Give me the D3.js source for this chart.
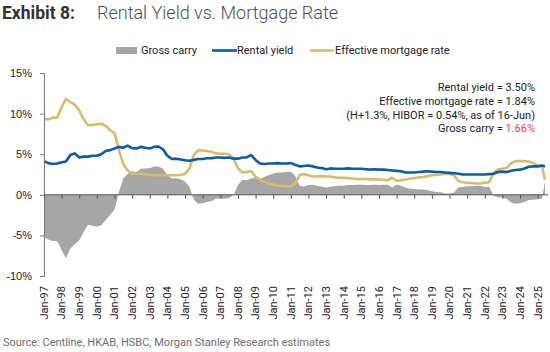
<!DOCTYPE html>
<html>
<head>
<meta charset="utf-8">
<script src="https://cdn.jsdelivr.net/npm/d3@7"></script>
<style>
body{margin:0;background:#fff}
svg{display:block;font-family:Roboto,"Liberation Sans",sans-serif}
</style>
</head>
<body>
<svg></svg>
<script>
// quarterly observations, last one is mid-June 2025
let dates=[
"1997-01","1997-04","1997-07","1997-10","1998-01","1998-04","1998-07","1998-10",
"1999-01","1999-04","1999-07","1999-10","2000-01","2000-04","2000-07","2000-10",
"2001-01","2001-04","2001-07","2001-10","2002-01","2002-04","2002-07","2002-10",
"2003-01","2003-04","2003-07","2003-10","2004-01","2004-04","2004-07","2004-10",
"2005-01","2005-04","2005-07","2005-10","2006-01","2006-04","2006-07","2006-10",
"2007-01","2007-04","2007-07","2007-10","2008-01","2008-04","2008-07","2008-10",
"2009-01","2009-04","2009-07","2009-10","2010-01","2010-04","2010-07","2010-10",
"2011-01","2011-04","2011-07","2011-10","2012-01","2012-04","2012-07","2012-10",
"2013-01","2013-04","2013-07","2013-10","2014-01","2014-04","2014-07","2014-10",
"2015-01","2015-04","2015-07","2015-10","2016-01","2016-04","2016-07","2016-10",
"2017-01","2017-04","2017-07","2017-10","2018-01","2018-04","2018-07","2018-10",
"2019-01","2019-04","2019-07","2019-10","2020-01","2020-04","2020-07","2020-10",
"2021-01","2021-04","2021-07","2021-10","2022-01","2022-04","2022-07","2022-10",
"2023-01","2023-04","2023-07","2023-10","2024-01","2024-04","2024-07","2024-10",
"2025-01","2025-04","2025-06"
]

let rentalYield=[
4.15,3.9,3.8,3.85, 4.0,4.1,4.9,5.1, 4.6,4.7,4.7,4.8, 4.8,5.0,5.4,5.5,
5.7,5.9,5.8,6.05, 5.75,5.7,5.9,5.8, 5.7,5.9,5.95,5.6, 4.8,4.4,4.45,4.35,
4.25,4.2,4.3,4.4, 4.4,4.5,4.5,4.6, 4.6,4.55,4.6,4.45, 4.45,4.6,4.6,4.9,
4.3,3.85,3.8,3.85, 3.85,3.9,3.85,3.85, 3.9,3.7,3.5,3.55, 3.6,3.5,3.35,3.3,
3.15,3.25,3.2,3.2, 3.2,3.25,3.2,3.2, 3.2,3.15,3.1,3.15, 3.1,3.1,3.05,3.0,
2.95,2.9,2.75,2.75, 2.75,2.8,2.85,2.9, 2.85,2.8,2.8,2.75, 2.7,2.65,2.6,2.5,
2.5,2.5,2.5,2.5, 2.5,2.55,2.6,2.8, 2.85,2.8,2.95,3.05, 3.1,3.25,3.45,3.5,
3.5,3.6,3.5
]

let mortgageRate=[
9.3,9.3,9.5,9.5, 10.8,11.8,11.4,11.1, 10.4,9.3,8.6,8.6, 8.7,8.75,8.5,7.95,
7.6,5.5,3.8,3.0, 2.6,2.6,2.6,2.55, 2.45,2.4,2.4,2.4, 2.4,2.4,2.4,2.45,
2.6,3.2,4.9,5.5, 5.45,5.4,5.3,5.1, 5.05,5.05,5.0,4.5, 3.3,2.75,2.8,2.9,
2.2,1.9,1.6,1.4, 1.25,1.15,1.1,1.05, 1.05,1.4,2.4,2.55, 2.4,2.25,2.25,2.3,
2.25,2.25,2.15,2.1, 2.1,2.05,2.0,1.95, 1.95,1.95,1.9,1.9, 1.9,1.85,1.8,2.1,
1.7,1.8,1.85,2.0, 2.05,2.15,2.2,2.3, 2.4,2.45,2.5,2.6, 2.55,2.4,1.7,1.55,
1.45,1.45,1.4,1.4, 1.5,1.55,2.7,3.1, 3.2,3.3,3.9,4.15, 4.15,4.15,4.1,3.9,
3.6,3.45,1.84
]

let grossCarry=[
-5.2,-5.5,-5.7,-5.7, -6.8,-7.8,-6.6,-6.1, -5.6,-4.6,-3.7,-3.8, -3.9,-3.75,-3.1,-2.5,
-1.8,0.3,2.0,2.6, 2.9,2.8,3.2,3.25, 3.3,3.5,3.5,3.2, 2.4,2.0,2.05,1.9,
1.65,1.0,-0.6,-1.1, -1.05,-0.9,-0.8,-0.5, -0.45,-0.5,-0.4,-0.05, 1.2,1.85,1.8,2.0,
2.1,1.95,2.2,2.45, 2.6,2.75,2.75,2.8, 2.85,2.3,1.1,1.0, 1.2,1.25,1.1,1.0,
0.9,1.0,1.05,1.1, 1.1,1.2,1.2,1.25, 1.25,1.2,1.2,1.25, 1.2,1.25,1.25,0.9,
1.25,1.1,0.9,0.75, 0.7,0.65,0.65,0.6, 0.45,0.35,0.3,0.15, 0.15,0.25,0.9,0.95,
1.05,1.05,1.1,1.1, 1.0,1.0,-0.1,-0.3, -0.35,-0.5,-0.95,-1.1, -1.05,-0.9,-0.65,-0.6,
-0.55,-0.5,1.66
]

let yTicks=[-10,-5,0,5,10,15]
let xTickLabels=["Jan-97","Jan-98","Jan-99","Jan-00","Jan-01","Jan-02","Jan-03","Jan-04",
"Jan-05","Jan-06","Jan-07","Jan-08","Jan-09","Jan-10","Jan-11","Jan-12","Jan-13","Jan-14",
"Jan-15","Jan-16","Jan-17","Jan-18","Jan-19","Jan-20","Jan-21","Jan-22","Jan-23","Jan-24","Jan-25"]

let width=550
let height=352
let plotLeft=44
let plotTop=73
let plotBottom=276

let parseMonth=d3.timeParse('%Y-%m')
let parseTick=d3.timeParse('%b-%y')
let points=dates.map((d,i)=>({date:parseMonth(d),ry:rentalYield[i],mr:mortgageRate[i],gc:grossCarry[i]}))
let tickDates=xTickLabels.map(t=>parseTick(t))

let svg=d3.select('svg').attr('width',width).attr('height',height)

let xScale=d3.scaleTime()
    .domain([tickDates[0],tickDates[tickDates.length-1]])
    .range([plotLeft,537.7])
let yScale=d3.scaleLinear()
    .domain([-10,15])
    .range([plotBottom,plotTop])

// title
let title=svg.append('text').attr('x',2).attr('y',19)
title.append('tspan').attr('font-weight','bold').attr('fill','#333').style('font-size','17.5px').text('Exhibit 8:')
title.append('tspan').attr('x',97).attr('font-weight',300).attr('fill','#4a4f57').style('font-size','18px').text('Rental Yield vs. Mortgage Rate')

// gross carry area
let area=d3.area()
    .x(d=>xScale(d.date))
    .y0(yScale(0))
    .y1(d=>yScale(d.gc))
svg.append('path').datum(points).attr('d',area).attr('fill','#a6a6a6')

let lineOf=(key)=>d3.line().x(d=>xScale(d.date)).y(d=>yScale(d[key]))
svg.append('path').datum(points).attr('d',lineOf('mr'))
    .attr('fill','none').attr('stroke','#d8bc6c').attr('stroke-width',2.6).attr('stroke-linejoin','round')
svg.append('path').datum(points).attr('d',lineOf('ry'))
    .attr('fill','none').attr('stroke','#0f5aa8').attr('stroke-width',2.6).attr('stroke-linejoin','round')

// axes
let yAxis=d3.axisLeft(yScale).tickValues(yTicks).tickFormat(d=>d+'%').tickSize(4).tickPadding(8)
let gy=svg.append('g').attr('transform','translate('+plotLeft+',0)').call(yAxis)
gy.selectAll('text').style('font-size','11px').attr('fill','#222')
gy.select('.domain').attr('stroke','#777')
gy.selectAll('.tick line').attr('stroke','#777')

let xAxis=d3.axisBottom(xScale).tickValues(tickDates).tickFormat('').tickSize(4).tickSizeOuter(0)
let gx=svg.append('g').attr('transform','translate(0,'+yScale(0)+')').call(xAxis)
gx.select('.domain').attr('d','M'+plotLeft+',0H548').attr('stroke','#555')
gx.selectAll('.tick line').attr('stroke','#555')

svg.append('g').selectAll('text')
    .data(xTickLabels)
    .enter()
    .append('text')
    .attr('transform',(t,i)=>'translate('+xScale(tickDates[i])+',286) rotate(-90)')
    .attr('text-anchor','end')
    .attr('dy','0.35em')
    .style('font-size','11px')
    .attr('fill','#222')
    .text(t=>t)

// legend
let legend=svg.append('g').style('font-size','11px').attr('fill','#222')
legend.append('rect').attr('x',116).attr('y',47).attr('width',21).attr('height',7).attr('fill','#a6a6a6')
legend.append('text').attr('x',141).attr('y',54).text('Gross carry')
legend.append('line').attr('x1',212).attr('x2',237).attr('y1',50.5).attr('y2',50.5).attr('stroke','#0f5aa8').attr('stroke-width',2.6)
legend.append('text').attr('x',237).attr('y',54).text('Rental yield')
legend.append('line').attr('x1',310).attr('x2',334).attr('y1',50.5).attr('y2',50.5).attr('stroke','#d8bc6c').attr('stroke-width',2.6)
legend.append('text').attr('x',335).attr('y',54).text('Effective mortgage rate')

// annotation
let note=svg.append('g').style('font-size','11px').attr('fill','#222').attr('text-anchor','end')
note.append('text').attr('x',535).attr('y',91).text('Rental yield = 3.50%')
note.append('text').attr('x',535).attr('y',105).text('Effective mortgage rate = 1.84%')
note.append('text').attr('x',535).attr('y',118.5).text('(H+1.3%, HIBOR = 0.54%, as of 16-Jun)')
let gc=note.append('text').attr('x',535).attr('y',132)
gc.append('tspan').text('Gross carry = ')
gc.append('tspan').attr('fill','#ff3a3a').text('1.66%')

svg.append('text').attr('x',3).attr('y',346).style('font-size','11px').attr('fill','#6e6e6e')
    .text('Source: Centline, HKAB, HSBC, Morgan Stanley Research estimates')
</script>
</body>
</html>
